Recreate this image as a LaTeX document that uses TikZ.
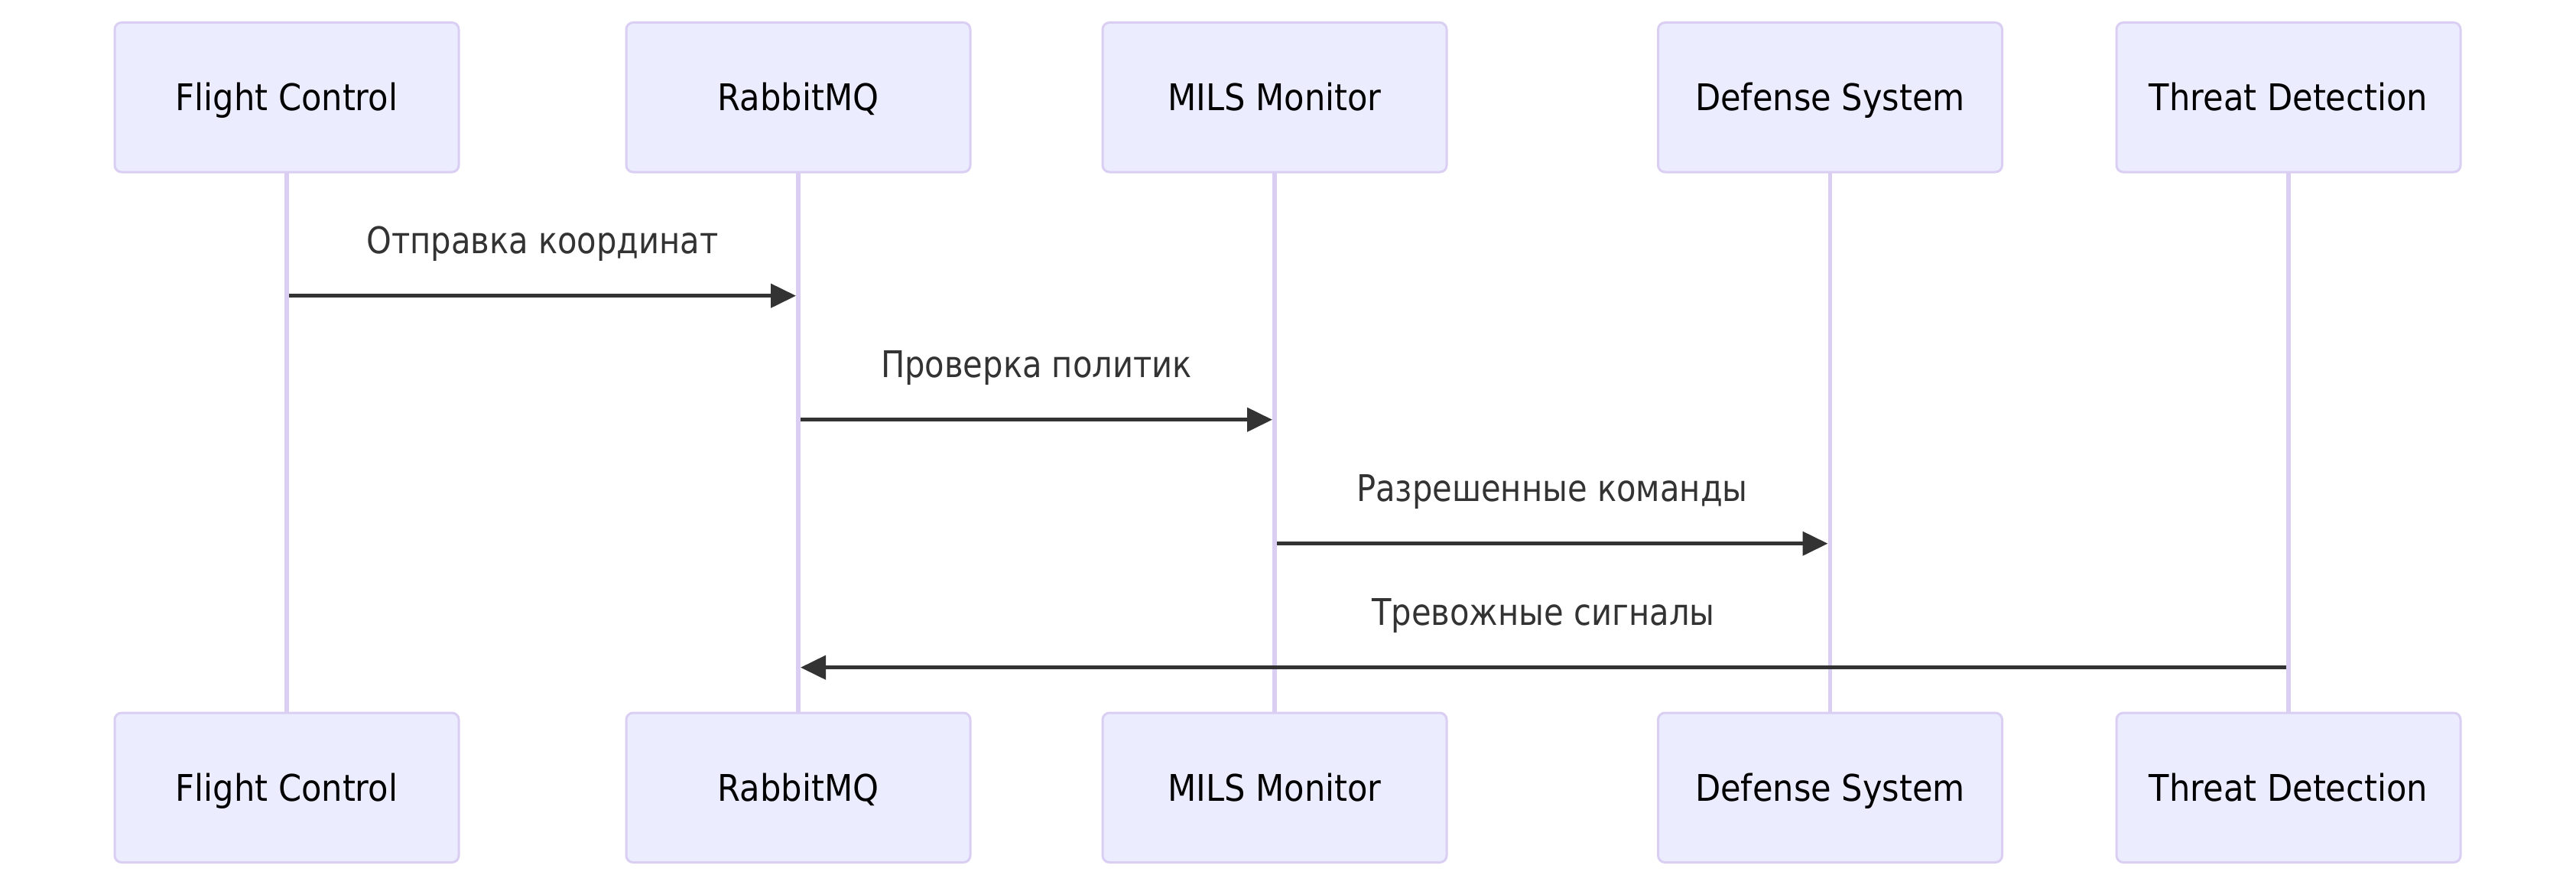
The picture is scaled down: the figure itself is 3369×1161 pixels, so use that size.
\documentclass[tikz,border=0pt]{standalone}
\usepackage{fontspec}
\setmainfont{DejaVu Sans}[FakeStretch=0.868]
\newfontfamily\actfont{DejaVu Sans}[FakeStretch=0.9]
\usetikzlibrary{arrows.meta}
\definecolor{actfill}{HTML}{ECECFF}
\definecolor{actline}{HTML}{DACEF3}
\definecolor{msgcol}{HTML}{333333}
\begin{document}
\begin{tikzpicture}[x=0.5pt,y=-0.5pt,
  actor/.style={draw=actline, fill=actfill, line width=1.5pt, rounded corners=4.5pt,
    minimum width=225pt, minimum height=97.75pt, inner sep=0pt, text=black,
    font=\actfont\fontsize{24}{28}\selectfont, text height=22.3pt, text depth=4.8pt},
  life/.style={draw=actline, line width=2.8pt},
  msgline/.style={draw=msgcol, line width=2.3pt, -{Triangle[length=16.5pt,width=15.5pt]}},
  msglabel/.style={text=msgcol, font=\fontsize{24}{28}\selectfont, anchor=base, inner sep=0pt}]
\useasboundingbox (0,0) rectangle (3369,1161);
\fill[white] (0,0) rectangle (3369,1161);
% lifelines first (behind boxes)
\coordinate (fcT) at (375,225); \coordinate (fcB) at (375,932);
\coordinate (rbT) at (1044,225); \coordinate (rbB) at (1044,932);
\coordinate (miT) at (1667,225); \coordinate (miB) at (1667,932);
\coordinate (dsT) at (2393.5,225); \coordinate (dsB) at (2393.5,932);
\coordinate (tdT) at (2993,225); \coordinate (tdB) at (2993,932);
\draw[life] (fcT) -- (fcB);
\draw[life] (rbT) -- (rbB);
\draw[life] (miT) -- (miB);
\draw[life] (dsT) -- (dsB);
\draw[life] (tdT) -- (tdB);
% top actors
\node[actor] (fc1) at (375,127.25) {Flight Control};
\node[actor] (rb1) at (1044,127.25) {RabbitMQ};
\node[actor] (mi1) at (1667,127.25) {MILS Monitor};
\node[actor] (ds1) at (2393.5,127.25) {Defense System};
\node[actor] (td1) at (2993,127.25) {Threat Detection};
% bottom actors
\node[actor] (fc2) at (375,1029.75) {Flight Control};
\node[actor] (rb2) at (1044,1029.75) {RabbitMQ};
\node[actor] (mi2) at (1667,1029.75) {MILS Monitor};
\node[actor] (ds2) at (2393.5,1029.75) {Defense System};
\node[actor] (td2) at (2993,1029.75) {Threat Detection};
% message end points
\coordinate (a1s) at (378,386.7);   \coordinate (a1e) at (1041,386.7);
\coordinate (a2s) at (1047,548.7);  \coordinate (a2e) at (1664,548.7);
\coordinate (a3s) at (1670,710.7);  \coordinate (a3e) at (2390.5,710.7);
\coordinate (a4s) at (2990,872.7);  \coordinate (a4e) at (1047,872.7);
\draw[msgline] (a1s) -- (a1e);
\draw[msgline] (a2s) -- (a2e);
\draw[msgline] (a3s) -- (a3e);
\draw[msgline] (a4s) -- (a4e);
% message labels
\node[msglabel] (l1) at (709.5,331.2) {Отправка координат};
\node[msglabel] (l2) at (1355.5,493.2) {Проверка политик};
\node[msglabel] (l3) at (2030,655.2) {Разрешенные команды};
\node[msglabel] (l4) at (2018.5,817.2) {Тревожные сигналы};
\end{tikzpicture}
\end{document}
